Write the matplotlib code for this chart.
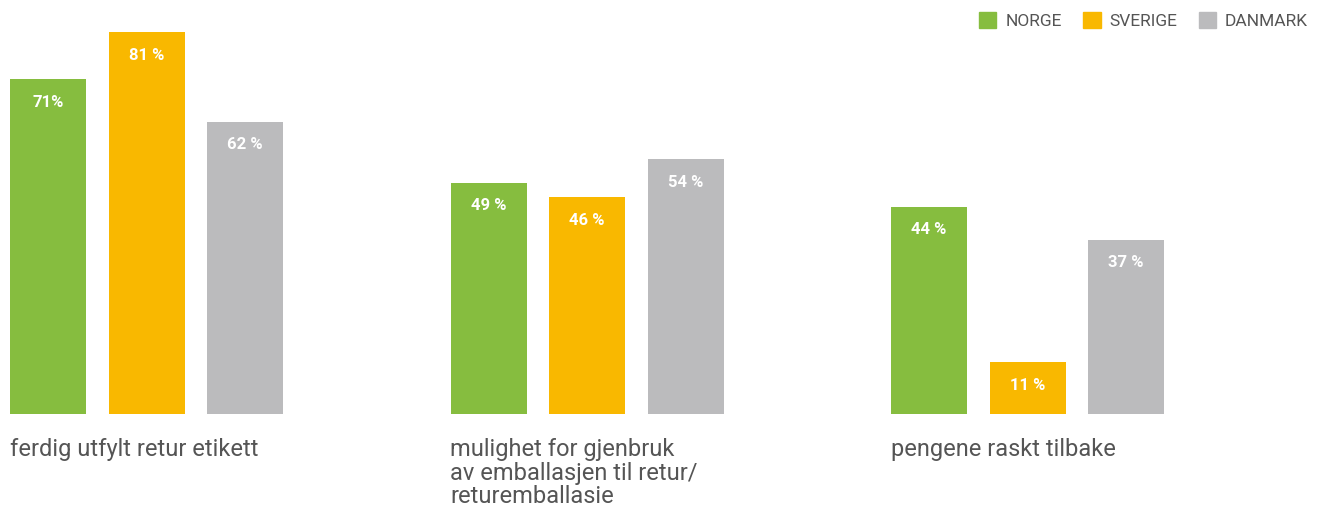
import matplotlib
matplotlib.use("Agg")
import matplotlib.pyplot as plt
from matplotlib.patches import Patch
import numpy as np

categories = ["ferdig utfylt retur etikett",
              "mulighet for gjenbruk\nav emballasjen til retur/\nreturemballasie",
              "pengene raskt tilbake"]
countries = ["NORGE", "SVERIGE", "DANMARK"]
norge = [71, 49, 44]
sverige = [81, 46, 11]
danmark = [62, 54, 37]
value_labels = [["71%", "49 %", "44 %"],
                ["81 %", "46 %", "11 %"],
                ["62 %", "54 %", "37 %"]]

colors = ["#86bd3f", "#f9b800", "#bbbbbd"]
text_col = "#555555"

W, H = 1324, 513
fig = plt.figure(figsize=(W / 100, H / 100), dpi=100)
base = 414
ax = fig.add_axes([0, (H - base) / H, 1, base / H])
ax.set_xlim(0, W)
ax.set_ylim(0, 87.8)
ax.axis("off")

group_step = 440.5
bar_step = 98.5
bar_w = 76
x0 = 48

series = [norge, sverige, danmark]
for i, vals in enumerate(series):
    xs = x0 + np.arange(len(categories)) * group_step + i * bar_step
    ax.bar(xs, vals, width=bar_w, color=colors[i], label=countries[i])
    for x, v, lab in zip(xs, vals, value_labels[i]):
        ax.annotate(lab, (x, v), xytext=(0, -23), textcoords="offset pixels",
                    ha="center", va="center", color="white",
                    fontsize=12, fontweight="bold", family="Roboto")

for g, cat in enumerate(categories):
    left = x0 - bar_w / 2 + g * group_step
    ax.annotate(cat, (left, 0), xytext=(0, -24), textcoords="offset pixels",
                ha="left", va="top", fontsize=17, color=text_col,
                family="Roboto", linespacing=1.04,
                annotation_clip=False)

handles = [Patch(color=c) for c in colors]
fig.legend(handles, countries, loc="upper right", ncol=3,
           bbox_to_anchor=(0.997, 1.0), frameon=False,
           handlelength=1.0, handleheight=1.0, handletextpad=0.5,
           columnspacing=1.25, borderaxespad=0.3,
           prop={"family": "Roboto", "size": 12.5}, labelcolor=text_col)

fig.savefig("out.png", dpi=100)
